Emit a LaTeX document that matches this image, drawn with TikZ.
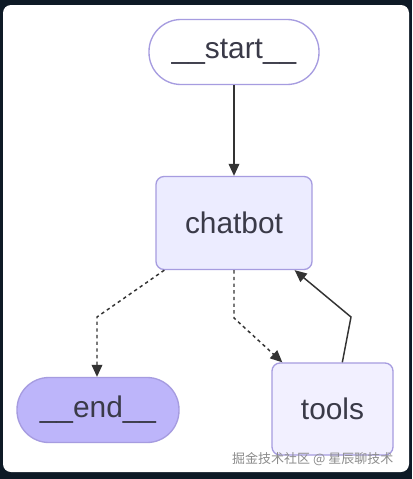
\documentclass[tikz,border=0pt]{standalone}
\usepackage{fontspec}
\setmainfont{Liberation Sans}
\newfontfamily\cjk{Noto Sans CJK SC}
\usetikzlibrary{arrows.meta, positioning, calc}
\definecolor{myframe}{RGB}{14,26,38}
\definecolor{mylav}{RGB}{166,156,224}
\definecolor{mybox}{RGB}{236,236,255}
\definecolor{mytools}{RGB}{242,240,255}
\definecolor{myend}{RGB}{189,181,250}
\definecolor{mytext}{RGB}{58,58,72}
\definecolor{myedge}{RGB}{51,51,51}
\definecolor{mymark}{RGB}{140,140,140}
\tikzset{
  gfont/.style={font=\fontsize{22.4}{26}\selectfont, text=mytext},
  pill/.style={rectangle, draw=mylav, line width=1pt, gfont,
    minimum height=48.75pt, rounded corners=24pt},
  box/.style={rectangle, draw=mylav, line width=1pt, gfont,
    rounded corners=6pt},
  edge/.style={-{Triangle[length=9pt, width=8pt]}, line width=1.1pt, color=myedge},
  dashedge/.style={edge, dash pattern=on 2.5pt off 2.5pt}
}

\begin{document}
\begin{tikzpicture}[x=0.75pt, y=-0.75pt]

  % Frame
  \fill[myframe] (0,0) rectangle (412,479);
  \fill[white, rounded corners=6pt] (3,5) rectangle (409,472);
  \useasboundingbox (0,0) rectangle (412,479);

  % Nodes
  \node[pill, fill=white, minimum width=127.5pt] (start) at (234,52) {\_\_start\_\_};
  \node[box, fill=mybox, minimum width=117pt, minimum height=69.75pt] (chatbot) at (234,223) {chatbot};
  \node[pill, fill=myend, minimum width=121.5pt] (end) at (98,410) {\_\_end\_\_};
  \node[box, fill=mytools, minimum width=90.75pt, minimum height=69pt] (tools) at (332.5,409) {tools};

  % Bends
  \coordinate (b1) at (97,317);
  \coordinate (b2) at (234,318);
  \coordinate (b3) at (351,317);

  % Connections
  \draw[edge] (start) -- (chatbot);
  \draw[dashedge] ($(chatbot.south west)+(9,0)$) -- (b1) -- (b1 |- end.north);
  \draw[dashedge] (chatbot.south) -- (b2) -- ($(tools.north west)+(11,0)$);
  \draw[edge] ($(tools.north west)+(71,0)$) -- (b3) -- ($(chatbot.south east)+(-18,0)$);

  % Watermark
  \node[font=\cjk\fontsize{9.75}{12}\selectfont, text=mymark, anchor=east] (mark) at (398,459) {掘金技术社区 @ 星辰聊技术};

\end{tikzpicture}
\end{document}
